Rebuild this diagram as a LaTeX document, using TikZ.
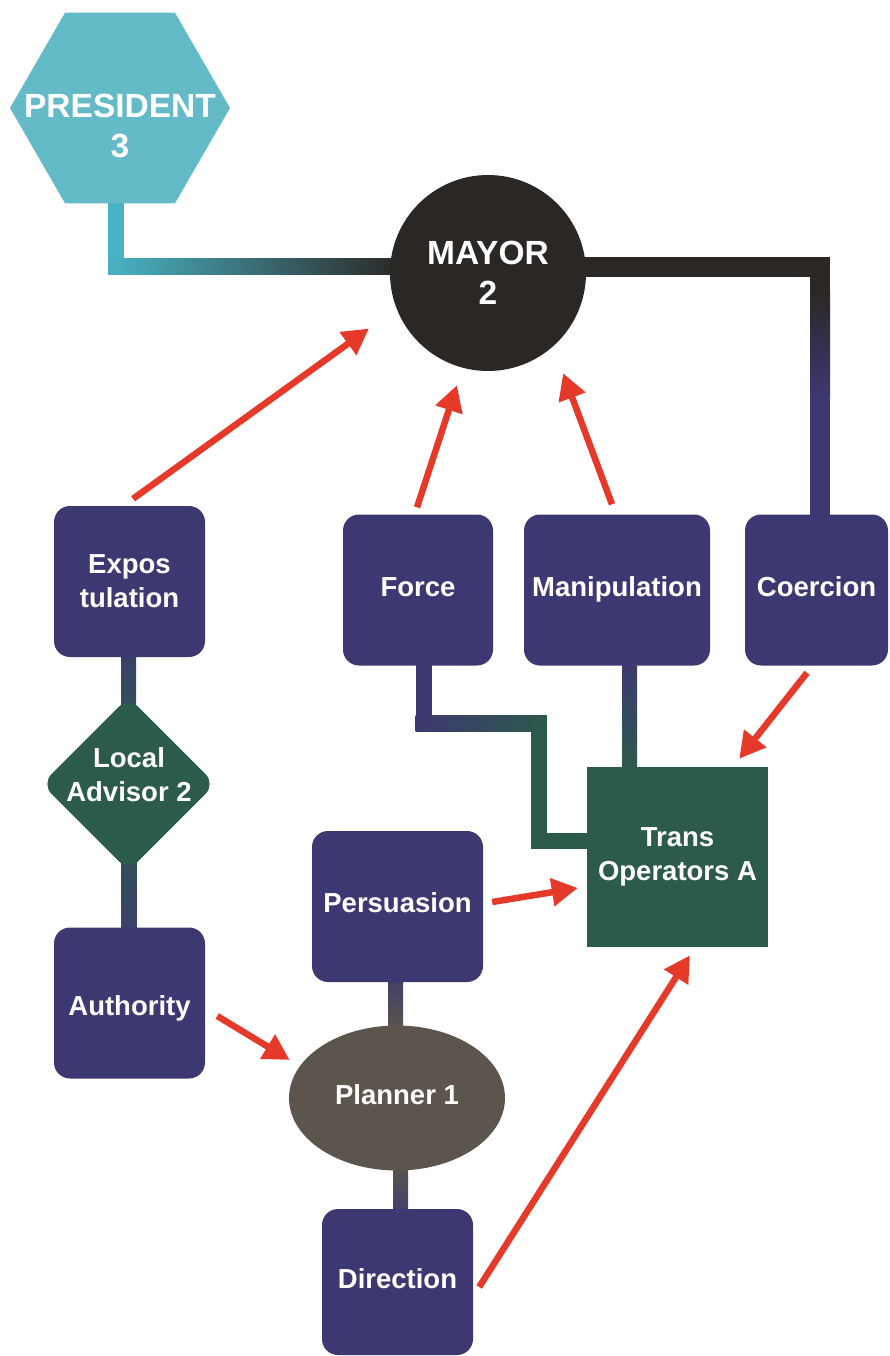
\documentclass[tikz,border=0pt]{standalone}
\usepackage{fontspec}
\setmainfont{Liberation Sans}
\usetikzlibrary{shapes.geometric,arrows.meta,calc}

\definecolor{boxnavy}{HTML}{3E3872}
\definecolor{boxgreen}{HTML}{2C5A4B}
\definecolor{mayorfill}{HTML}{2B2725}
\definecolor{hexfill}{HTML}{64BAC6}
\definecolor{hexlink}{HTML}{48B3C4}
\definecolor{plannerfill}{HTML}{5B554D}
\definecolor{arrowred}{HTML}{E53A2A}

\newcommand\smalllabel{\fontsize{27.5}{34}\selectfont\bfseries}
\newcommand\biglabel{\fontsize{33.5}{40}\selectfont\bfseries}

\pgfdeclarelayer{links}
\pgfsetlayers{links,main}

\begin{document}
\begin{tikzpicture}[x=1pt,y=-1pt,
  every node/.style={text=white, inner sep=0pt, align=center},
  stepbox/.style={rectangle, rounded corners=16pt, fill=boxnavy,
    minimum width=151pt, minimum height=151pt, font=\smalllabel},
  oneline/.style={text height=20pt, text depth=8pt},
  redarrow/.style={draw=arrowred, line width=6.5pt,
    -{Triangle[length=26pt,width=27pt]}},
]
\useasboundingbox (0,0) rectangle (890,1356);

% ---- nodes ----
\node[regular polygon, regular polygon sides=6, minimum size=220pt,
      fill=hexfill] (pres) at (120,108) {};
\node[font=\biglabel] (prestext) at (120,125.5) {PRESIDENT\\3};
\node[circle, minimum size=196pt, fill=mayorfill, font=\biglabel]
      (mayor) at (488,273) {MAYOR\\2};

\node[stepbox] (expos) at (129.5,581.5) {Expos\\tulation};
\node[diamond, minimum width=174pt, minimum height=174pt, fill=boxgreen,
      rounded corners=14pt] (advisor) at (128.5,784) {};
\node[font=\smalllabel] (advisortext) at (129,774.5) {Local\\Advisor 2};
\node[stepbox, oneline, text height=28pt, text depth=4pt]
      (auth) at (129.5,1003) {Authority};

\node[stepbox, oneline, minimum width=150pt] (force) at (418,590) {Force};
\node[stepbox, oneline, minimum width=186pt] (manip) at (617,590) {Manipulation};
\node[stepbox, oneline, minimum width=143pt] (coer) at (816.5,590) {Coercion};

\node[rectangle, fill=boxgreen, minimum width=181pt, minimum height=180pt,
      font=\smalllabel] (trans) at (677.5,857) {Trans\\Operators A};
\node[stepbox, oneline, minimum width=171pt] (pers) at (397.5,906.5) {Persuasion};
\node[ellipse, fill=plannerfill, minimum width=216pt, minimum height=145pt,
      font=\smalllabel, oneline] (planner) at (397,1098) {Planner 1};
\node[stepbox, oneline, minimum height=146pt] (direc) at (397.5,1282) {Direction};

% ---- thick links behind the nodes ----
\begin{pgfonlayer}{links}
  % president -> mayor
  \coordinate (pbend) at ($(pres.south)+(-4,63)$);
  \fill[hexlink] ($(pres.south)+(-12,-4)$) rectangle ($(pbend)+(8,8)$);
  \shade[left color=hexlink, right color=mayorfill]
    ($(pbend)+(-8,-8)$) rectangle ($(pbend -| mayor.west)+(12,8)$);

  % mayor -> coercion
  \coordinate (mbend) at ($(coer.north |- mayor.center)+(3.5,-6)$);
  \fill[mayorfill] ($(mbend -| mayor.center)+(0,-10)$) rectangle ($(mbend)+(10,10)$);
  \fill[mayorfill] ($(mbend)+(-10,0)$) rectangle ($(mbend)+(10,25)$);
  \shade[top color=mayorfill, bottom color=boxnavy]
    ($(mbend)+(-10,24)$) rectangle ($(mbend)+(10,130)$);
  \fill[boxnavy] ($(mbend)+(-10,129)$) rectangle ($(coer.north)+(13.5,4)$);

  % expostulation -> local advisor -> authority
  \shade[top color=boxnavy!75!boxgreen, bottom color=boxnavy!35!boxgreen]
    ($(expos.south)+(-8,-4)$) rectangle ($(advisor.north)+(7.5,12)$);
  \shade[top color=boxnavy!35!boxgreen, bottom color=boxnavy!75!boxgreen]
    ($(advisor.south)+(-7.5,-12)$) rectangle ($(auth.north)+(7,4)$);

  % persuasion -> planner -> direction
  \shade[top color=boxnavy!80!plannerfill, bottom color=plannerfill]
    ($(pers.south)+(-9.5,-4)$) rectangle ($(planner.north)+(6,6)$);
  \shade[top color=plannerfill, bottom color=boxnavy!80!plannerfill]
    ($(planner.south)+(-4,-6)$) rectangle ($(direc.north)+(10.5,4)$);

  % force -> trans operators
  \coordinate (fbend1) at ($(force.south)+(5.5,58)$);
  \coordinate (fbend2) at ($(trans.west |- fbend1)+(-48,0)$);
  \coordinate (fbend3) at ($(fbend2 |- trans.west)+(0,-16)$);
  \fill[boxnavy] ($(force.south)+(-2,-4)$) rectangle ($(fbend1)+(8,8)$);
  \fill[boxgreen] ($(fbend2)+(-8,-8)$) rectangle ($(fbend3)+(8,8)$);
  \fill[boxgreen] ($(fbend3)+(-8,-8)$) rectangle ($(fbend3 -| trans.west)+(4,8)$);
  \shade[left color=boxnavy, right color=boxgreen]
    ($(fbend1)+(-8,-8)$) rectangle ($(fbend2)+(8,8)$);

  % manipulation -> trans operators
  \shade[top color=boxnavy, bottom color=boxgreen]
    ($(manip.south)+(5,-4)$) rectangle ($(manip.south |- trans.north)+(20,4)$);
\end{pgfonlayer}

% ---- red influence arrows ----
\draw[redarrow] ([shift={(3.5,-7)}]expos.north) -- ([shift={(-30,14)}]mayor.205);
\draw[redarrow] ([shift={(-1,-7)}]force.north) -- ([shift={(-5.6,17.3)}]mayor.255);
\draw[redarrow] ([shift={(-5,-10)}]manip.north) -- ([shift={(16,21.7)}]mayor.307);
\draw[redarrow] ([shift={(-9.5,7)}]coer.south) -- ([shift={(-29,-8)}]trans.north east);
\draw[redarrow] ([shift={(9,-4.5)}]pers.east) -- ([shift={(-9,31)}]trans.west);
\draw[redarrow] ([shift={(6,5)}]direc.east) -- ([shift={(12.5,8)}]trans.south);
\draw[redarrow] ([shift={(12,13)}]auth.east) -- ([shift={(1,-38)}]planner.west);
\end{tikzpicture}
\end{document}
